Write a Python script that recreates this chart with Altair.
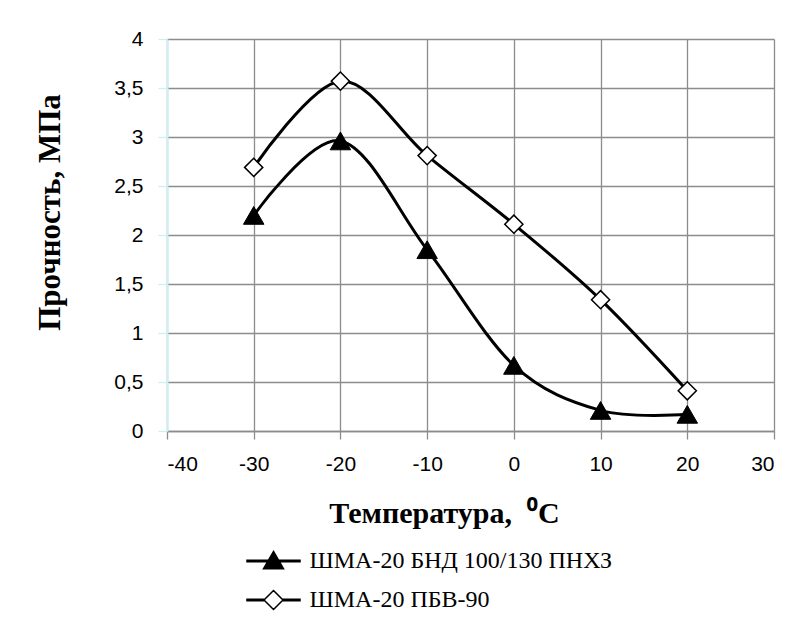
import altair as alt
import pandas as pd

temps = [-30, -20, -10, 0, 10, 20]
series_names = ["ШМА-20 БНД 100/130 ПНХЗ", "ШМА-20 ПБВ-90"]
s1 = [2.20, 2.96, 1.85, 0.67, 0.21, 0.17]
s2 = [2.69, 3.57, 2.81, 2.11, 1.34, 0.41]
x_ticks = [-40, -30, -20, -10, 0, 10, 20, 30]
y_ticks = [0, 0.5, 1, 1.5, 2, 2.5, 3, 3.5, 4]

df = pd.DataFrame({
    "t": temps + temps,
    "v": s1 + s2,
    "series": [series_names[0]] * len(temps) + [series_names[1]] * len(temps),
})

# legend symbols: line segment + marker (unit box scaled by sqrt(size)/2)
tri_path = ("M-2.65,-0.075H2.65V0.075H-2.65Z "
            "M0,-0.95L1,0.78L-1,0.78Z")
dia_path = ("M-2.65,-0.075H-0.95V0.075H-2.65Z "
            "M0.95,-0.075H2.65V0.075H0.95Z "
            "M0,-0.95L0.95,0L0,0.95L-0.95,0Z")

x_enc = alt.X(
    "t:Q",
    scale=alt.Scale(domain=[-40, 30], nice=False, zero=False),
    axis=alt.Axis(
        values=x_ticks, title="Температура,\u00a0\u00a0⁰С",
        labelExpr="datum.value < 0 ? '-' + format(-datum.value, 'd') : format(datum.value, 'd')",
        grid=True, gridColor="#8c8c8c", gridWidth=1.3,
        domainColor="#8c8c8c", domainWidth=1.5,
        tickColor="#8c8c8c", tickSize=8, tickWidth=1.3,
        labelFont="Liberation Sans", labelFontSize=21, labelColor="black",
        labelPadding=14,
        titleFont="Liberation Serif", titleFontWeight="bold", titleFontSize=30,
        titleColor="black", titleX=277, titleY=82, titleBaseline="middle",
    ),
)
y_enc = alt.Y(
    "v:Q",
    scale=alt.Scale(domain=[0, 4], nice=False),
    axis=alt.Axis(
        values=y_ticks, title="Прочность, МПа",
        labelExpr="replace(format(datum.value, '~g'), '.', ',')",
        grid=True, gridColor="#8c8c8c", gridWidth=1.3,
        domainColor="#cdeff3", domainWidth=2,
        tickColor="#cdeff3", tickSize=9, tickWidth=1.3,
        labelFont="Liberation Sans", labelFontSize=21, labelColor="black",
        labelPadding=15,
        titleFont="Liberation Serif", titleFontWeight="bold", titleFontSize=31,
        titleColor="black", titleX=-117, titleY=173, titleAngle=270,
        titleBaseline="middle",
    ),
)

base = alt.Chart(df)

lines = base.mark_line(interpolate="cardinal", color="black", strokeWidth=3).encode(
    x=x_enc, y=y_enc, detail="series:N"
)

tri = base.transform_filter(alt.datum.series == series_names[0]).mark_point(
    shape="triangle-up", filled=True, fill="black", stroke="black",
    strokeWidth=1, size=420, opacity=1
).encode(x="t:Q", y="v:Q")

dia = base.transform_filter(alt.datum.series == series_names[1]).mark_point(
    shape="diamond", filled=True, fill="white", stroke="black",
    strokeWidth=1.5, size=330, opacity=1
).encode(x="t:Q", y="v:Q")

leg_props = dict(
    title=None, orient="none", legendX=94.5, legendY=510, direction="vertical",
    labelFont="Liberation Serif", labelFontSize=24, labelColor="black",
    labelLimit=0,
    symbolSize=400, symbolStrokeColor="black", symbolStrokeWidth=1.5,
    symbolOpacity=1,
    rowPadding=14, labelOffset=24, padding=0,
)

legend_layer = base.transform_filter("false").mark_point(
    filled=True, strokeWidth=1.5, size=400, opacity=1
).encode(
    x="t:Q", y="v:Q",
    shape=alt.Shape("series:N", scale=alt.Scale(domain=series_names, range=[tri_path, dia_path]),
                    legend=alt.Legend(**leg_props)),
    fill=alt.Fill("series:N", scale=alt.Scale(domain=series_names, range=["black", "white"]),
                  legend=alt.Legend(**leg_props)),
    stroke=alt.Stroke("series:N", scale=alt.Scale(domain=series_names, range=["black", "black"]),
                      legend=alt.Legend(**leg_props)),
)

chart = alt.layer(lines, tri, dia, legend_layer).properties(
    width=607, height=392,
    padding={"left": 159, "top": 31, "right": 10, "bottom": 190},
    autosize=alt.AutoSizeParams(type="none"),
    background="white",
).configure_view(stroke=None)

chart.save("out.html", embed_options={"renderer": "svg", "actions": False})
